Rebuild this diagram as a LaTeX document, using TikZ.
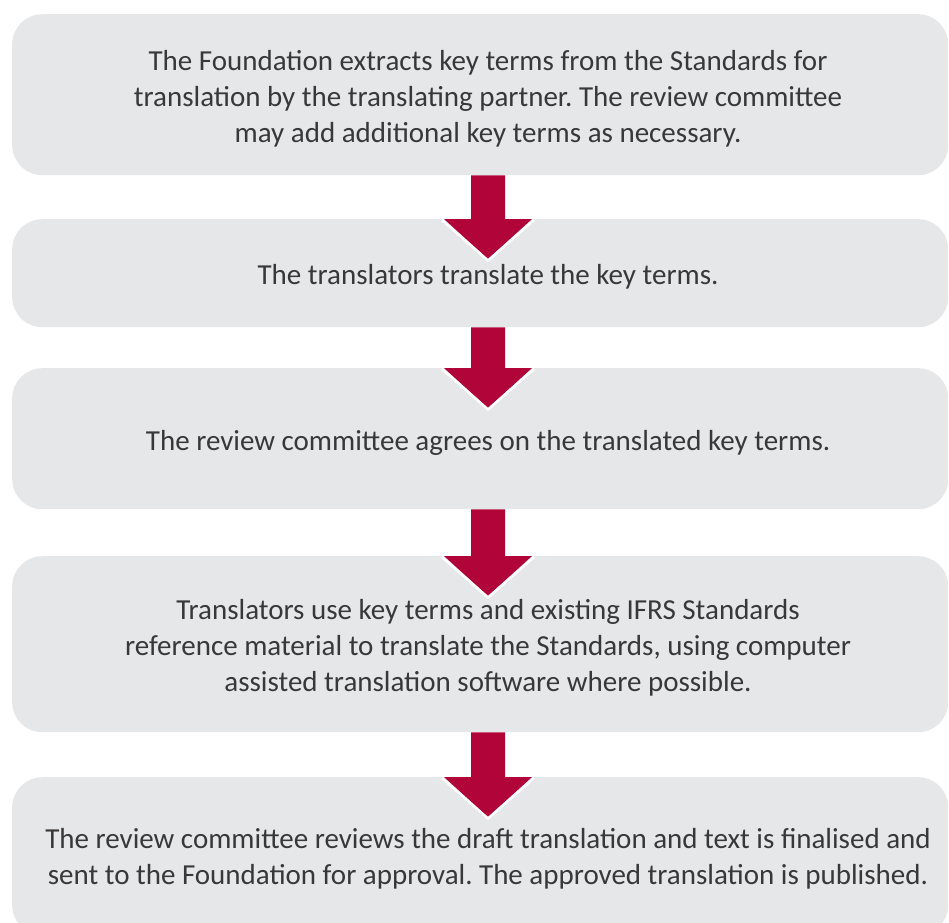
\documentclass[tikz,border=0pt]{standalone}
\usepackage{fontspec}
\setmainfont{Carlito}
\usetikzlibrary{calc}
\definecolor{boxgray}{HTML}{E6E7E9}
\definecolor{arrowred}{HTML}{B10539}
\definecolor{textgray}{HTML}{383838}
\tikzset{
  stepbox/.style={rectangle, rounded corners=30pt, fill=boxgray, draw=none,
    minimum width=936pt, anchor=north west, inner sep=0pt},
  steptext/.style={align=center, text=textgray, font=\frenchspacing\fontsize{29}{36}\selectfont, inner sep=0pt},
  flowfill/.style={fill=arrowred},
  flowedge/.style={draw=white, line width=2.5pt, line join=miter},
}
\newcommand{\flowarrow}[2]{%
  \fill[flowfill]
    ($(#1.south -| ax)+(-17,0)$) -- ($(#2.north -| ax)+(-17,0)$) -- ($(#2.north -| ax)+(-44,0)$)
    -- ($(#2.north -| ax)+(0,40)$) -- ($(#2.north -| ax)+(44,0)$) -- ($(#2.north -| ax)+(17,0)$)
    -- ($(#1.south -| ax)+(17,0)$) -- cycle;
  \draw[flowedge] ($(#2.north -| ax)+(-46,1)$) -- ($(#2.north -| ax)+(0,41.5)$) -- ($(#2.north -| ax)+(46,1)$);
}
\begin{document}
\begin{tikzpicture}[x=1pt, y=-1pt]
\useasboundingbox (0,0) rectangle (949,922);
\begin{scope}
\clip (0,0) rectangle (949,922);
\node[stepbox, minimum height=161pt] (b1) at (12,14) {};
\node[stepbox, minimum height=108pt] (b2) at (12,219) {};
\node[stepbox, minimum height=141pt] (b3) at (12,368) {};
\node[stepbox, minimum height=176pt] (b4) at (12,556) {};
\node[stepbox, minimum height=158pt] (b5) at (12,777) {};
\coordinate (ax) at (488,0);
\node[steptext] (t1) at (488,98.5) {The Foundation extracts key terms from the Standards for\\translation by the translating partner. The review committee\\may add additional key terms as necessary.};
\node[steptext] (t2) at (488,276.5) {The translators translate the key terms.};
\node[steptext] (t3) at (488,442.5) {The review committee agrees on the translated key terms.};
\node[steptext] (t4) at (488,647.5) {Translators use key terms and existing IFRS Standards\\reference material to translate the Standards, using computer\\assisted translation software where possible.};
\node[steptext] (t5) at (488,858.5) {The review committee reviews the draft translation and text is finalised and\\sent to the Foundation for approval. The approved translation is published.};
\flowarrow{b1}{b2}
\flowarrow{b2}{b3}
\flowarrow{b3}{b4}
\flowarrow{b4}{b5}
\end{scope}
\end{tikzpicture}
\end{document}
